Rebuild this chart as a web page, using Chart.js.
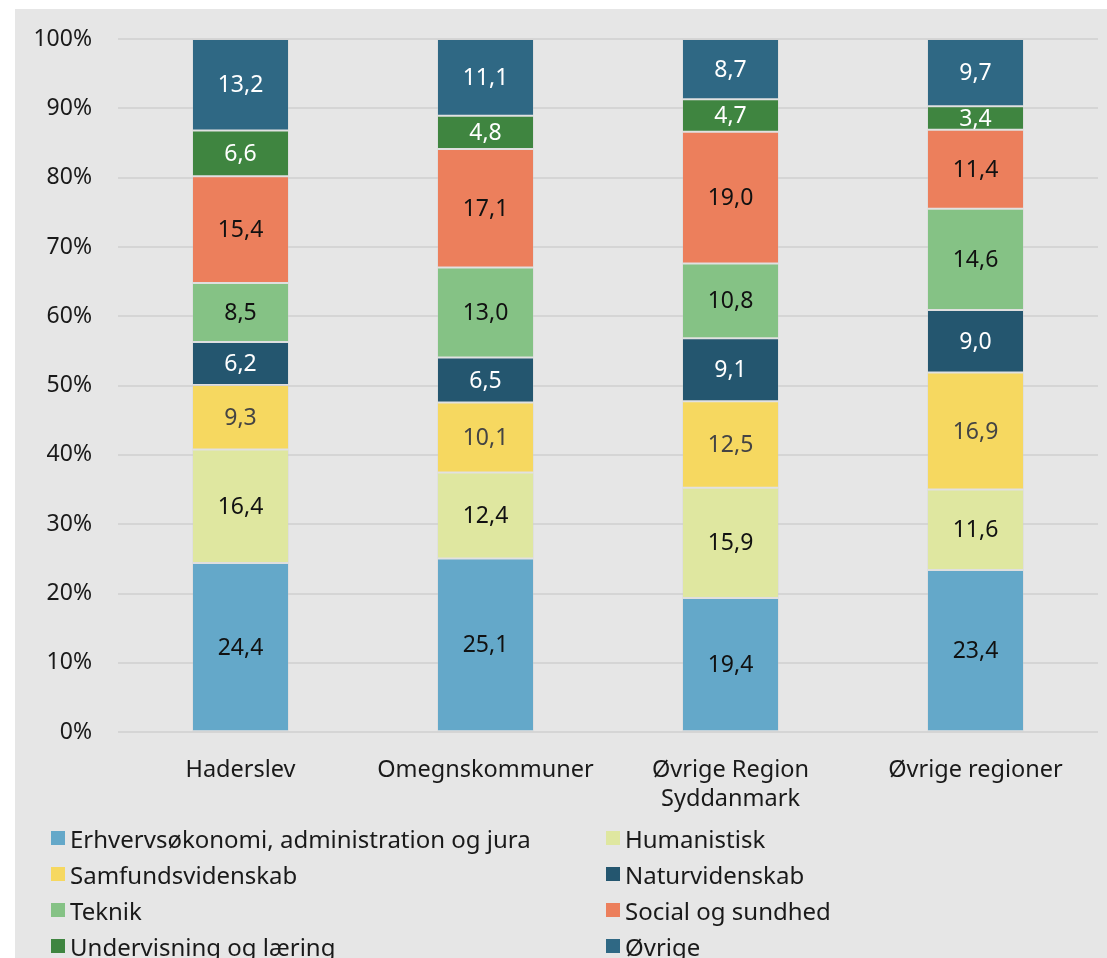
<!DOCTYPE html>
<html>
<head>
<meta charset="utf-8">
<script src="https://cdn.jsdelivr.net/npm/chart.js@4"></script>
<style>
  body { margin: 0; background: #fff; font-family: "Noto Sans", sans-serif; }
  #panel { position: absolute; left: 15px; top: 9px; width: 1092px; height: 949px; background: #e6e6e6; overflow: hidden; }
  #wrap { position: absolute; left: 0; top: 0; width: 1092px; height: 832px; }
  #legend { position: absolute; left: 36px; top: 811px; width: 1050px;
            display: grid; grid-template-columns: 555px 400px; row-gap: 0; }
  .item { display: flex; align-items: center; height: 36px; font-size: 24px; color: #1a1a1a; white-space: nowrap; }
  .box { width: 14px; height: 14px; margin-right: 5px; flex: none; }
</style>
</head>
<body>
<div id="panel">
  <div id="wrap"><canvas id="chart"></canvas></div>
  <div id="legend"></div>
</div>
<script>
// categories and series (shares in percent, as printed on the bars)
const categories = ['Haderslev', 'Omegnskommuner', ['Øvrige Region', 'Syddanmark'], 'Øvrige regioner'];
const seriesNames = ['Erhvervsøkonomi, administration og jura', 'Humanistisk', 'Samfundsvidenskab',
  'Naturvidenskab', 'Teknik', 'Social og sundhed', 'Undervisning og læring', 'Øvrige'];

const erhverv      = [24.4, 25.1, 19.4, 23.4];
const humanistisk  = [16.4, 12.4, 15.9, 11.6];
const samfund      = [9.3, 10.1, 12.5, 16.9];
const natur        = [6.2, 6.5, 9.1, 9.0];
const teknik       = [8.5, 13.0, 10.8, 14.6];
const social       = [15.4, 17.1, 19.0, 11.4];
const undervisning = [6.6, 4.8, 4.7, 3.4];
const ovrige       = [13.2, 11.1, 8.7, 9.7];

const yTicks = [0, 10, 20, 30, 40, 50, 60, 70, 80, 90, 100];

const series = [erhverv, humanistisk, samfund, natur, teknik, social, undervisning, ovrige];
const colors = ['#64a8c9', '#dfe7a0', '#f6d860', '#24566f', '#85c285', '#ec7f5c', '#3f8540', '#2f6884'];
const labelColors = ['#111', '#111', '#444', '#fff', '#111', '#111', '#fff', '#fff'];

// column totals, so each bar fills 0-100 %
const totals = categories.map((c, i) => series.reduce((s, arr) => s + arr[i], 0));

const datasets = series.map((arr, k) => ({
  label: seriesNames[k],
  data: arr.map((v, i) => v / totals[i] * 100),
  raw: arr,
  backgroundColor: colors[k],
  borderColor: 'rgba(210,210,210,0.3)',
  borderWidth: 1,
  borderSkipped: false,
  barPercentage: 0.396,
  categoryPercentage: 1
}));

// draw the value inside each segment
const barLabels = {
  id: 'barLabels',
  afterDatasetsDraw(chart) {
    const ctx = chart.ctx;
    ctx.save();
    ctx.font = '23px "Noto Sans"';
    ctx.textAlign = 'center';
    ctx.textBaseline = 'middle';
    chart.data.datasets.forEach((ds, k) => {
      chart.getDatasetMeta(k).data.forEach((bar, i) => {
        const y = (bar.y + bar.base) / 2;
        ctx.fillStyle = labelColors[k];
        ctx.fillText(ds.raw[i].toFixed(1).replace('.', ','), bar.x, y + 1);
      });
    });
    ctx.restore();
  }
};

new Chart(document.getElementById('chart'), {
  type: 'bar',
  data: { labels: categories, datasets: datasets },
  options: {
    responsive: true,
    maintainAspectRatio: false,
    animation: false,
    layout: { padding: { top: 30, right: 9, bottom: 12, left: 0 } },
    plugins: { legend: { display: false }, tooltip: { enabled: false } },
    scales: {
      x: {
        stacked: true,
        grid: { display: false },
        border: { display: false },
        ticks: { color: '#1a1a1a', font: { family: 'Noto Sans', size: 23.5, lineHeight: 1.25 }, padding: 15 }
      },
      y: {
        stacked: true,
        min: 0,
        max: 100,
        afterBuildTicks(s) { s.ticks = yTicks.map(v => ({ value: v })); },
        afterFit(s) { s.width = 103; s.paddingTop = 0; s.paddingBottom = 0; },
        grid: { color: '#d5d5d5', lineWidth: 2, drawTicks: false },
        border: { display: false },
        ticks: {
          color: '#1a1a1a',
          padding: 26,
          font: { family: 'Noto Sans', size: 23 },
          callback: v => v + '%'
        }
      }
    }
  },
  plugins: [barLabels]
});

// two-column legend, same order as the series
const legend = document.getElementById('legend');
seriesNames.forEach((name, k) => {
  const item = document.createElement('div');
  item.className = 'item';
  item.innerHTML = '<span class="box" style="background:' + colors[k] + '"></span>';
  item.appendChild(document.createTextNode(name));
  legend.appendChild(item);
});
</script>
</body>
</html>
